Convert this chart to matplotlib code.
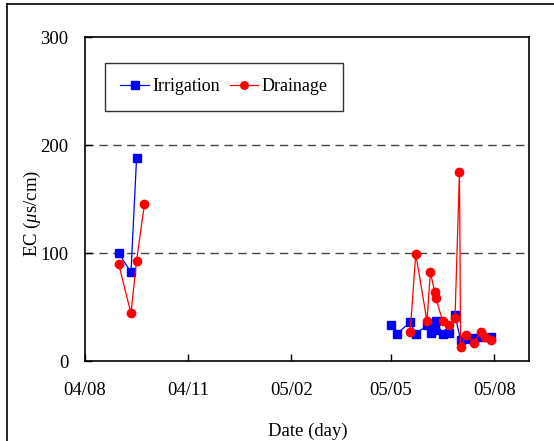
import matplotlib
matplotlib.use("Agg")
import matplotlib.pyplot as plt
import matplotlib.dates as mdates
import numpy as np
import pandas as pd

plt.rcParams['font.family'] = ['Liberation Serif', 'DejaVu Serif']
plt.rcParams['mathtext.fontset'] = 'custom'
plt.rcParams['mathtext.it'] = 'Liberation Serif:italic'
plt.rcParams['mathtext.rm'] = 'Liberation Serif'

# ---- data (NaN marks the gap between the two sampling periods) ----
irr_dates = ["2004-08-31", "2004-09-11", "2004-09-16", "2004-12-31",
             "2005-05-01", "2005-05-06", "2005-05-18", "2005-05-23", "2005-06-02",
             "2005-06-06", "2005-06-09", "2005-06-10", "2005-06-16", "2005-06-22",
             "2005-06-27", "2005-07-02", "2005-07-08", "2005-07-14", "2005-07-21",
             "2005-07-29"]
irr_values = [100, 82, 188, np.nan,
              33, 25, 36, 25, 33,
              26, 29, 37, 25, 26,
              43, 19, 20, 21, 22,
              22]

dra_dates = ["2004-08-31", "2004-09-11", "2004-09-16", "2004-09-23", "2004-12-31",
             "2005-05-18", "2005-05-23", "2005-06-02", "2005-06-05", "2005-06-09",
             "2005-06-10", "2005-06-16", "2005-06-22", "2005-06-27", "2005-07-01",
             "2005-07-02", "2005-07-07", "2005-07-14", "2005-07-20", "2005-07-24",
             "2005-07-29"]
dra_values = [90, 44, 93, 145, np.nan,
              27, 99, 37, 82, 64,
              58, 37, 33, 40, 175,
              13, 24, 17, 27, 22,
              19]

tick_dates = ["2004-08-01", "2004-11-01", "2005-02-01", "2005-05-01", "2005-08-01"]
tick_labels = ["04/08", "04/11", "05/02", "05/05", "05/08"]
y_ticks = [0, 100, 200, 300]

W, H = 554, 441
fig = plt.figure(figsize=(W / 100, H / 100), dpi=100)
ax = fig.add_axes([85 / W, 1 - 361 / H, (529 - 85) / W, (361 - 37) / H])

ax.plot(pd.to_datetime(irr_dates), irr_values, color='#0000ff', lw=0.9,
        marker='s', ms=5.8, mec='#0000ff', mfc='#0000ff', label='Irrigation', zorder=3)
ax.plot(pd.to_datetime(dra_dates), dra_values, color='#ff0000', lw=0.9,
        marker='o', ms=6, mec='#ff0000', mfc='#ff0000', label='Drainage', zorder=4)

ax.set_xlim(pd.Timestamp("2004-08-01"), pd.Timestamp("2005-09-01"))
ax.set_ylim(0, 300)
ax.set_xticks(pd.to_datetime(tick_dates))
ax.set_xticklabels(tick_labels)
ax.set_yticks(y_ticks)

for yv in [100, 200]:
    ax.axhline(yv, color='#444444', lw=1.0, ls=(0, (6, 4)), zorder=1)

ax.tick_params(axis='both', direction='in', length=5, width=1, labelsize=13.5)
ax.tick_params(axis='x', pad=15)
ax.tick_params(axis='y', pad=12)
for s in ax.spines.values():
    s.set_linewidth(1.2)
    s.set_color('black')

fig.text(308 / W, 1 - 431 / H, 'Date (day)', ha='center', va='center', fontsize=13.5)
fig.text(32 / W, 1 - 213 / H, r'EC ($\mathit{\mu}$s/cm)', ha='center', va='center',
         rotation=90, fontsize=13.5)

leg = ax.legend(loc='upper left', bbox_to_anchor=(105 / W, 1 - 63 / H),
                bbox_transform=fig.transFigure, ncol=2, fontsize=13, frameon=True,
                fancybox=False, edgecolor='black', handlelength=1.6,
                columnspacing=0.5, handletextpad=0.2, borderpad=0.85,
                borderaxespad=0, markerscale=0.9)
leg.get_frame().set_linewidth(1.0)

# figure border (left and top edges visible)
fig.add_artist(plt.Line2D([7 / W, 7 / W], [0, 1 - 4 / H], color='black', lw=1.2,
                          transform=fig.transFigure))
fig.add_artist(plt.Line2D([7 / W, 1], [1 - 4 / H, 1 - 4 / H], color='black', lw=1.2,
                          transform=fig.transFigure))

fig.savefig('out.png', dpi=100)
